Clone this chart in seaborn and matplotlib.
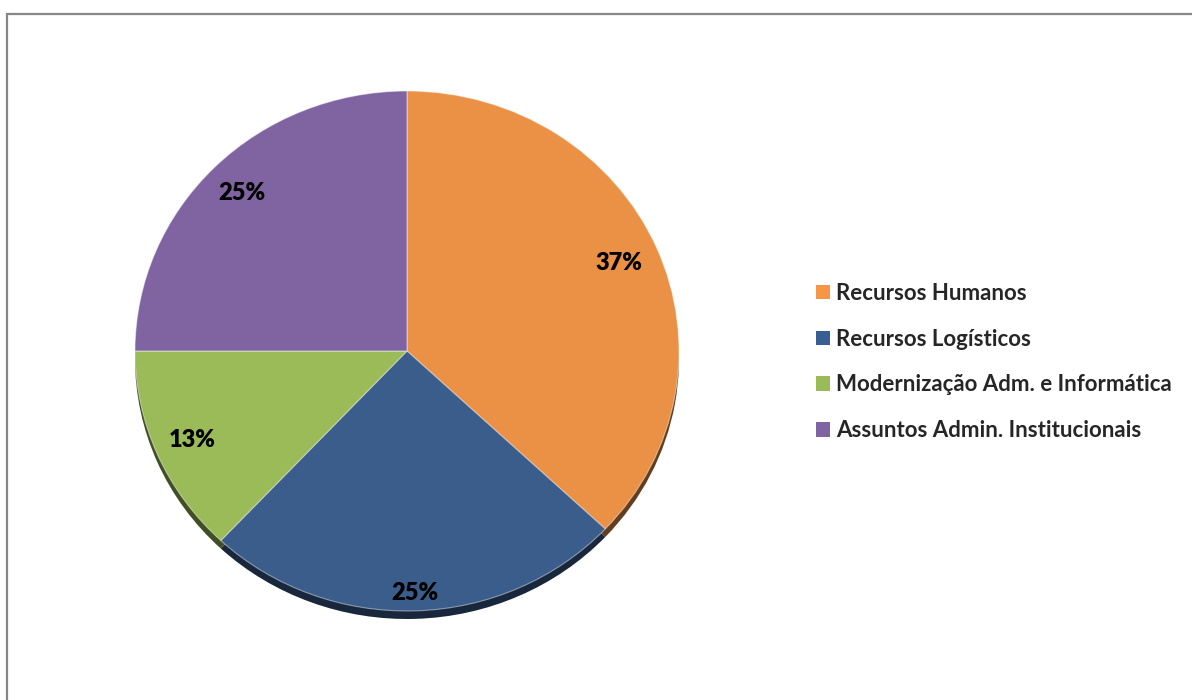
import matplotlib
matplotlib.use("Agg")
import matplotlib.pyplot as plt
import matplotlib.colors as mcolors
from matplotlib.patches import Rectangle
import numpy as np
import seaborn as sns

# Data
categories = [
    "Recursos Humanos",
    "Recursos Logísticos",
    "Modernização Adm. e Informática",
    "Assuntos Admin. Institucionais",
]
shares = [37, 25, 13, 25]

# Styling
slice_colors = ["#EB9146", "#3A5D8C", "#9BBB59", "#8064A2"]
legend_colors = ["#F79646", "#375F92", "#9BBB59", "#8064A2"]
label_radius = [0.85, 0.93, 0.86, 0.86]

sns.set_theme(style="white")
plt.rcParams["font.family"] = ["Lato", "DejaVu Sans"]

W, H = 1192, 700
fig = plt.figure(figsize=(W / 100, H / 100), dpi=100)
ax = fig.add_axes([0, 0, 1, 1])

# Pie centre and radii in pixels (slightly flattened, like a tilted 3-D pie)
cx, cy, rx, ry = 407, 351, 272, 260
depth = 8 / ry


def darken(c, f=0.42):
    r, g, b = mcolors.to_rgb(c)
    return (r * f, g * f, b * f)


# Side of the disc (drawn first, shifted down)
ax.pie(shares, colors=[darken(c) for c in slice_colors], startangle=90,
       counterclock=False, center=(0, -depth), radius=1,
       wedgeprops=dict(linewidth=0))
# Top face
wedges, _ = ax.pie(shares, colors=slice_colors, startangle=90,
                   counterclock=False, center=(0, 0), radius=1,
                   wedgeprops=dict(edgecolor=(1, 1, 1, 0.45), linewidth=0.8))

for w, v, r in zip(wedges, shares, label_radius):
    theta = np.deg2rad((w.theta1 + w.theta2) / 2)
    ax.text(r * np.cos(theta), r * np.sin(theta), f"{v:.0f}%",
            ha="center", va="center", fontsize=17, fontweight="heavy",
            color="black")

ax.set_xlim(-cx / rx, (W - cx) / rx)
ax.set_ylim(-(H - cy) / ry, cy / ry)
ax.set_aspect("auto")
ax.axis("off")

handles = [Rectangle((0, 0), 1, 1, facecolor=c, edgecolor="none") for c in legend_colors]
fig.legend(handles, categories, loc="center left",
           bbox_to_anchor=(796 / W, 1 - 362 / H), frameon=False,
           prop=dict(weight="bold", size=16),
           handlelength=0.62, handleheight=0.62, handletextpad=0.3,
           labelspacing=1.12)

# Chart area border
fig.add_artist(Rectangle((7.5 / W, -0.1), 1.2, 1.1 - 13.5 / H,
                         transform=fig.transFigure, fill=False,
                         edgecolor="#878787", linewidth=1.6))

fig.savefig("out.png", dpi=100)
